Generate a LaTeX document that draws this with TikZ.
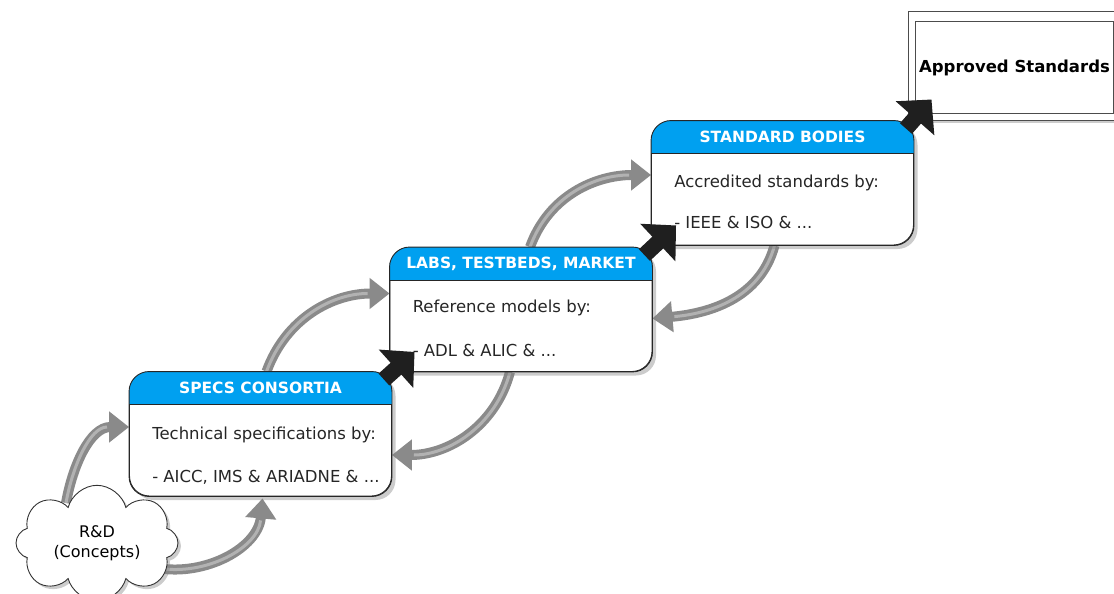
\documentclass[tikz,border=0pt]{standalone}
\usepackage{fontspec}
\setmainfont{DejaVu Sans}
\usepackage{tikz}
\usetikzlibrary{positioning,arrows.meta,shapes.symbols,shadows,calc}
\definecolor{hdrblue}{RGB}{0,160,240}
\definecolor{loopgray}{RGB}{138,138,138}
\definecolor{loopshine}{RGB}{178,178,178}
\pgfdeclarelayer{back}
\pgfsetlayers{back,main}

\begin{document}
\begin{tikzpicture}[x=1pt, y=-1pt,
  stage/.style={draw=black!85, line width=0.9pt, rounded corners=20pt, fill=white, minimum width=262pt, minimum height=124pt, inner sep=0pt, drop shadow={shadow xshift=4pt, shadow yshift=-4pt, opacity=0.4}},
  hdr/.style={font=\bfseries\fontsize{15.5}{18}\selectfont, text=white, inner sep=0pt},
  txt/.style={font=\fontsize{16.5}{20}\selectfont, text=black!85, anchor=west, inner sep=0pt},
  cycarrow/.style={line width=10pt, draw=loopgray, -{Triangle[width=30pt,length=20pt]},
    postaction={draw=loopshine, line width=3pt, shorten >=22pt, -}},
  promote/.style={line width=16pt, draw=black!88, -{Triangle[width=50pt,length=25pt]}},
  frame/.style={draw=black!70, line width=1pt, fill=white},
]
  \useasboundingbox (0,0) rectangle (1114,594);

  % the three stages
  \node[stage] (specs) at (260.5,434) {};
  \node[stage] (labs) at (521,309.5) {};
  \node[stage] (bodies) at (782.5,183) {};

  \foreach \stg in {specs,labs,bodies}{
    \fill[hdrblue] ([yshift=-33pt]\stg.north west) [rounded corners=20pt] -- (\stg.north west) -- (\stg.north east) [sharp corners] -- ([yshift=-33pt]\stg.north east) -- cycle;
    \draw[line width=0.9pt, black!85] ([yshift=-33pt]\stg.north west) -- ([yshift=-33pt]\stg.north east);
    \draw[line width=0.9pt, black!85, rounded corners=20pt] (\stg.north west) rectangle (\stg.south east);
  }

  \node[hdr] (specs-title) at ([yshift=-16.5pt]specs.north) {SPECS CONSORTIA};
  \node[txt] (specs-l1) at ([shift={(23pt,-63pt)}]specs.north west) {Technical specifications by:};
  \node[txt] (specs-l2) at ([shift={(23pt,-106pt)}]specs.north west) {- AICC, IMS \& ARIADNE \& ...};

  \node[hdr] (labs-title) at ([yshift=-16.5pt]labs.north) {LABS, TESTBEDS, MARKET};
  \node[txt] (labs-l1) at ([shift={(23pt,-61pt)}]labs.north west) {Reference models by:};
  \node[txt] (labs-l2) at ([shift={(23pt,-103pt)}]labs.north west) {- ADL \& ALIC \& ...};

  \node[hdr] (bodies-title) at ([yshift=-16.5pt]bodies.north) {STANDARD BODIES};
  \node[txt] (bodies-l1) at ([shift={(23pt,-62pt)}]bodies.north west) {Accredited standards by:};
  \node[txt] (bodies-l2) at ([shift={(23pt,-102pt)}]bodies.north west) {- IEEE \& ISO \& ...};

  % end result
  \node[frame, minimum width=206pt, minimum height=108pt, drop shadow={shadow xshift=3pt, shadow yshift=-3pt, opacity=0.4}] (approved-frame) at (1011,66) {};
  \node[frame, minimum width=195pt, minimum height=91pt, font=\bfseries\fontsize{16.5}{20}\selectfont] (approved) at (1014.5,67.5) {Approved Standards};

  % starting point
  \node[cloud, cloud puffs=8, aspect=1.6, draw=black!80, line width=0.9pt, fill=white, minimum width=162pt, minimum height=98pt,
        align=center, font=\fontsize{16}{20}\selectfont, drop shadow={shadow xshift=3pt, shadow yshift=-3pt, opacity=0.4}] (rnd) at (97,543) {R\&D\\(Concepts)};

  % feedback loops
  \begin{pgfonlayer}{back}
    \draw[cycarrow] ([shift={(-31pt,40pt)}]rnd.center) to[out=80,in=180] ([yshift=7pt]specs.west);
    \draw[cycarrow] ([shift={(60pt,-25pt)}]rnd.center) to[out=-10,in=-95] ([xshift=2pt,yshift=-2pt]specs.south);
    \draw[cycarrow] ([xshift=6pt]specs.north) to[out=70,in=180] ([yshift=16pt]labs.west);
    \draw[cycarrow] ([xshift=-11pt]labs.south) to[out=-105,in=0] ([yshift=-21pt]specs.east);
    \draw[cycarrow] ([xshift=9pt]labs.north) to[out=70,in=180] ([yshift=8pt]bodies.west);
    \draw[cycarrow] ([xshift=-8pt]bodies.south) to[out=-105,in=5] ([yshift=-9pt]labs.east);
  \end{pgfonlayer}

  % promotion steps
  \draw[promote] ([shift={(-8pt,-8pt)}]specs.north east) -- ([shift={(25pt,20pt)}]labs.south west);
  \draw[promote] ([shift={(-8pt,-8pt)}]labs.north east) -- ([shift={(25pt,20pt)}]bodies.south west);
  \draw[promote] ([shift={(-8pt,-8pt)}]bodies.north east) -- ([shift={(24pt,21pt)}]approved-frame.south west);
\end{tikzpicture}
\end{document}
